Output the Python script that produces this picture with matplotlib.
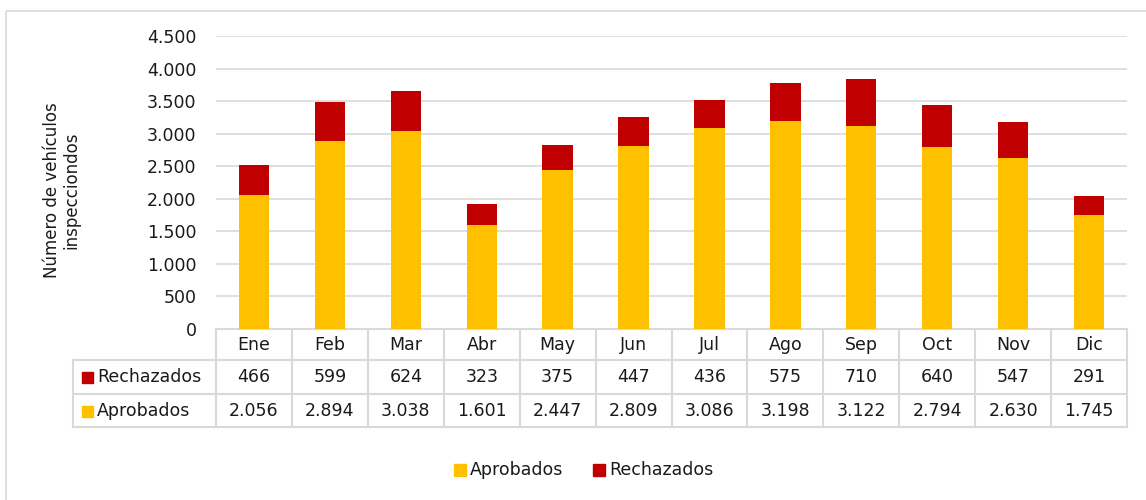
import matplotlib
matplotlib.use("Agg")
import matplotlib.pyplot as plt
from matplotlib.patches import Rectangle
from matplotlib.transforms import blended_transform_factory

meses = ["Ene", "Feb", "Mar", "Abr", "May", "Jun", "Jul", "Ago", "Sep", "Oct", "Nov", "Dic"]
aprobados = [2056, 2894, 3038, 1601, 2447, 2809, 3086, 3198, 3122, 2794, 2630, 1745]
rechazados = [466, 599, 624, 323, 375, 447, 436, 575, 710, 640, 547, 291]
yticks = [0, 500, 1000, 1500, 2000, 2500, 3000, 3500, 4000, 4500]

COL_APR = "#ffc000"
COL_REC = "#c00000"
GRID = "#d9d9d9"
TXT = "#1a1a1a"
FS = 12.5

plt.rcParams["font.family"] = ["DejaVu Sans"]


def miles(v):
    return f"{v:,}".replace(",", ".")


W, H = 1146, 500
fig = plt.figure(figsize=(W / 100, H / 100), dpi=100)

# overlay in pixel coordinates for border, table and legend
ov = fig.add_axes([0, 0, 1, 1])
ov.set_xlim(0, W)
ov.set_ylim(H, 0)
ov.axis("off")
ov.add_patch(Rectangle((6, 11), 1200, 600, fill=False, edgecolor=GRID, lw=1.2))

# bar area
x0, x1, ytop, ybot = 216, 1127, 36, 329
ax = fig.add_axes([x0 / W, 1 - ybot / H, (x1 - x0) / W, (ybot - ytop) / H])
x = list(range(len(meses)))
ax.bar(x, aprobados, width=0.4, color=COL_APR, zorder=3)
ax.bar(x, rechazados, width=0.4, bottom=aprobados, color=COL_REC, zorder=3)
ax.set_xlim(-0.5, len(meses) - 0.5)
ax.set_ylim(0, 4500)
ax.set_yticks(yticks)
ax.set_yticklabels([miles(v) for v in yticks], fontsize=FS, color=TXT)
ax.set_xticks([])
ax.tick_params(axis="y", length=0, pad=14)
ax.grid(axis="y", color=GRID, lw=1.2, zorder=0)
for s in ax.spines.values():
    s.set_visible(False)
ax.patch.set_alpha(0)

fig.text(62 / W, 1 - 190 / H, "Número de vehículos\ninspecciondos", rotation=90,
         ha="center", va="center", fontsize=12, color=TXT, linespacing=1.1)

# data table
tr = blended_transform_factory(ax.transData, ov.transData)
rows = [329, 360, 394, 427]
edges = [i - 0.5 for i in range(len(meses) + 1)]
lk = dict(color=GRID, lw=1.5, clip_on=False)
for e in edges:
    ov.plot([e, e], [rows[0], rows[3]], transform=tr, **lk)
ov.plot([73, 73], [rows[1], rows[3]], **lk)
ov.plot([x0, x1], [rows[0], rows[0]], **lk)
for r in rows[1:]:
    ov.plot([73, x1], [r, r], **lk)

for i, m in enumerate(meses):
    ov.text(i, (rows[0] + rows[1]) / 2, m, transform=tr, ha="center", va="center",
            fontsize=FS, color=TXT)
    ov.text(i, (rows[1] + rows[2]) / 2, miles(rechazados[i]), transform=tr,
            ha="center", va="center", fontsize=FS, color=TXT)
    ov.text(i, (rows[2] + rows[3]) / 2, miles(aprobados[i]), transform=tr,
            ha="center", va="center", fontsize=FS, color=TXT)

for (lab, col, r0, r1) in [("Rechazados", COL_REC, rows[1], rows[2]),
                           ("Aprobados", COL_APR, rows[2], rows[3])]:
    yc = (r0 + r1) / 2
    ov.add_patch(Rectangle((82, yc - 5), 11, 11, color=col))
    ov.text(97, yc, lab, ha="left", va="center", fontsize=FS, color=TXT)

# legend
ly = 470
ov.add_patch(Rectangle((454, ly - 6), 12, 12, color=COL_APR))
ov.text(470, ly, "Aprobados", ha="left", va="center", fontsize=FS, color=TXT)
ov.add_patch(Rectangle((593, ly - 6), 12, 12, color=COL_REC))
ov.text(609, ly, "Rechazados", ha="left", va="center", fontsize=FS, color=TXT)

fig.savefig("out.png", dpi=100)
